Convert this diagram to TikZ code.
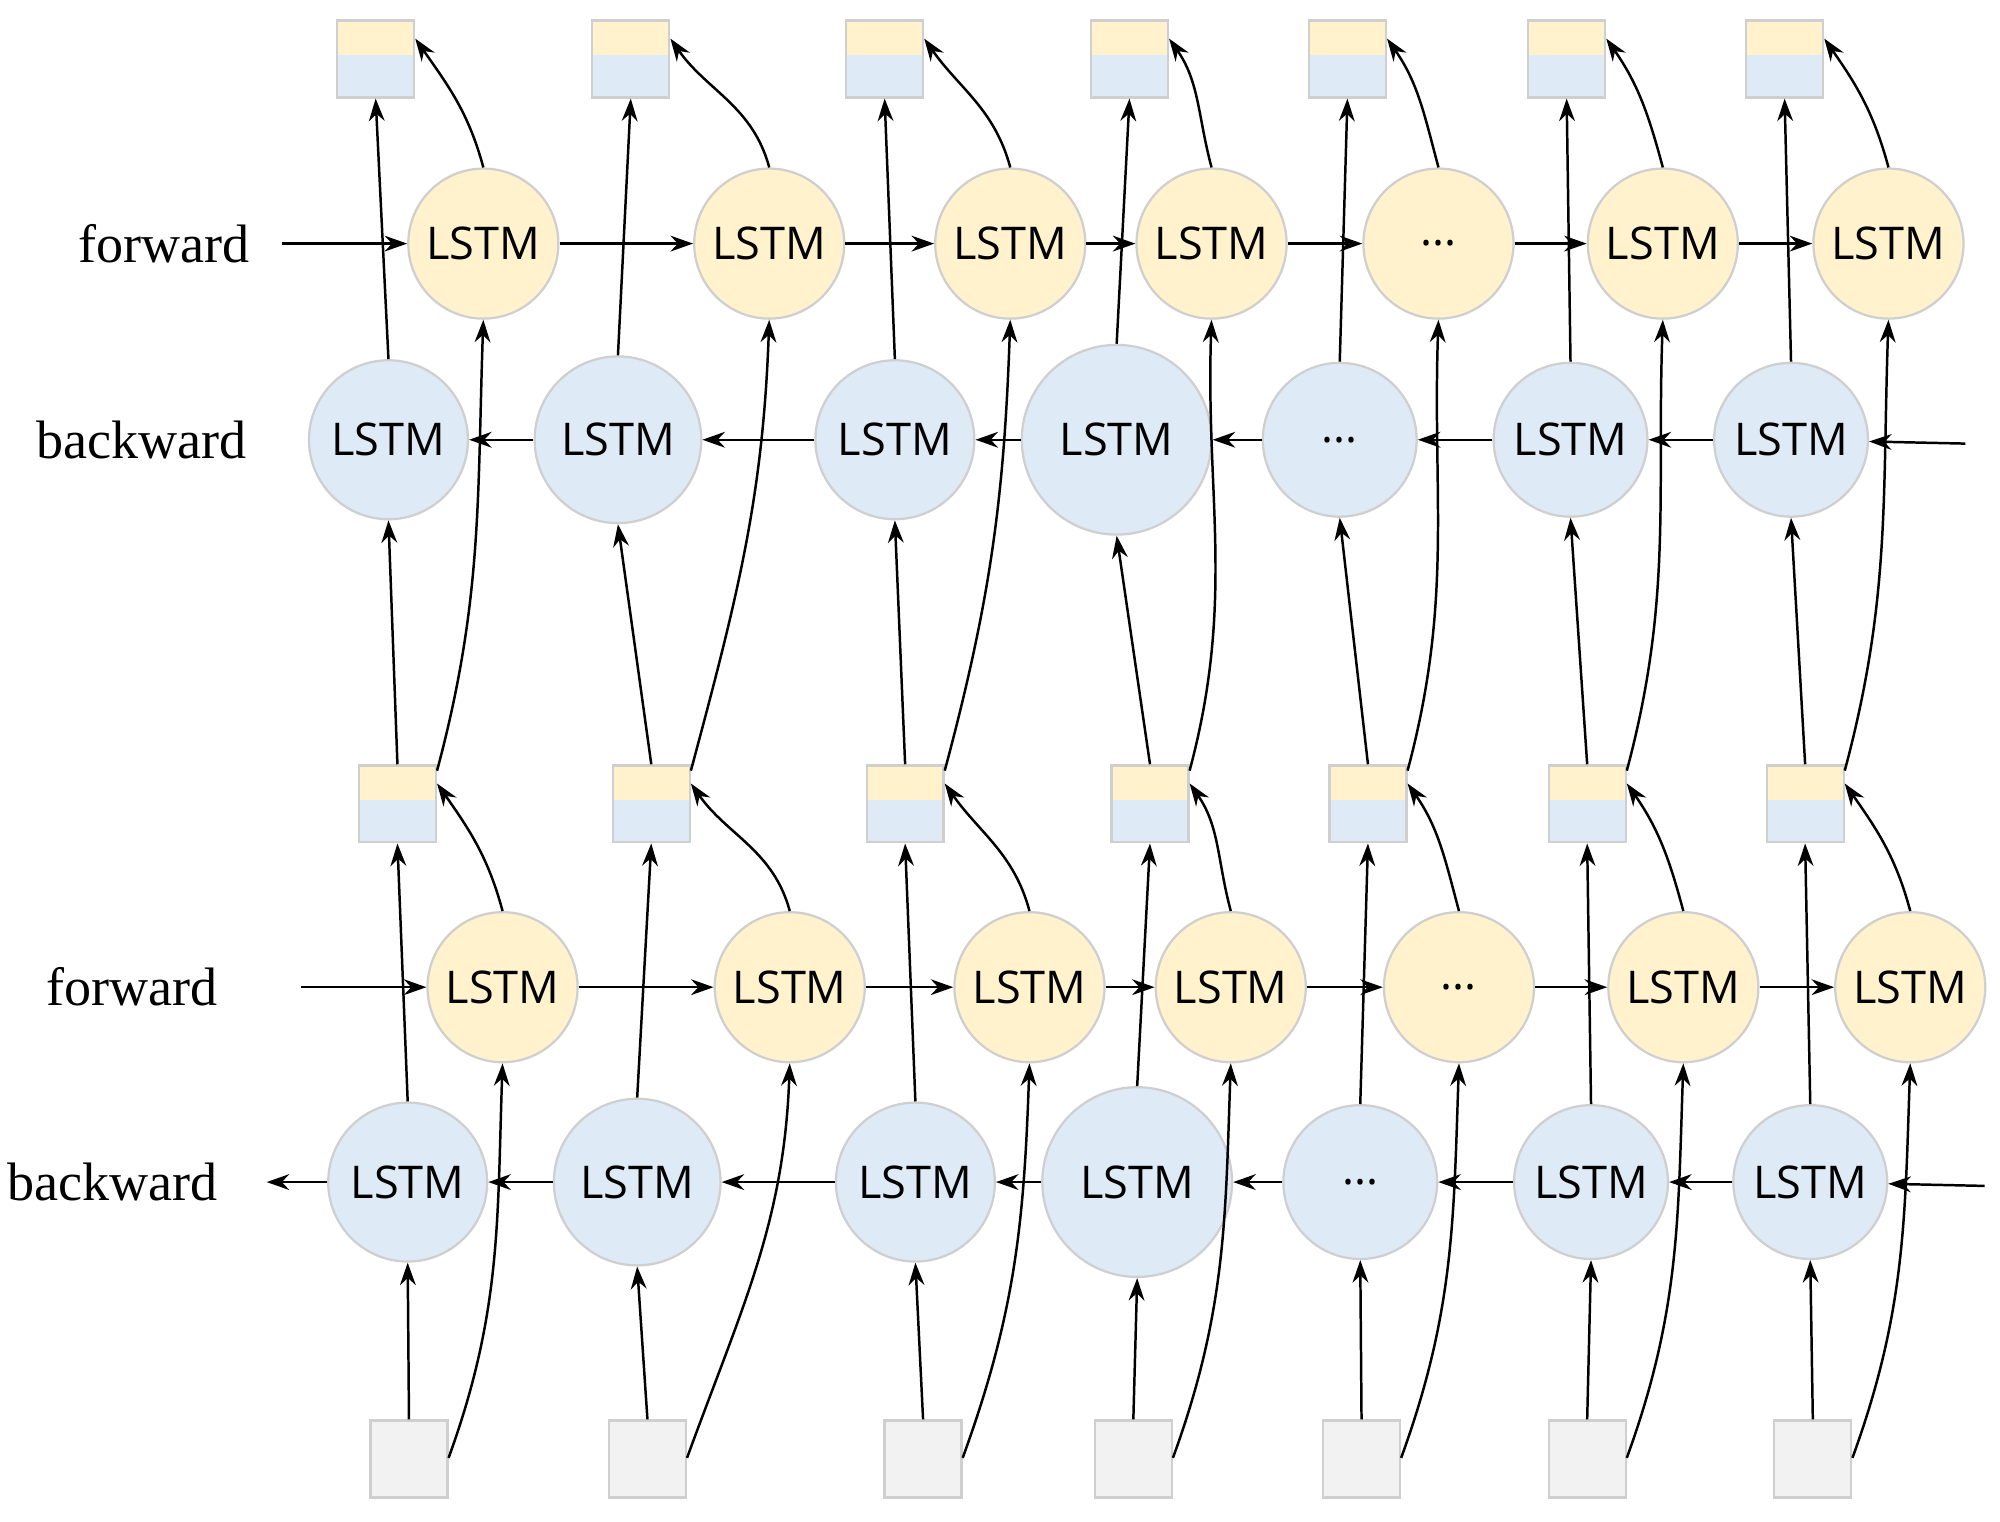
\documentclass[tikz,border=0pt]{standalone}
\usepackage{fontspec}
\setmainfont{Liberation Serif}
\newfontfamily\lsans{Open Sans}
\usetikzlibrary{calc,arrows.meta}
\newcommand\mydots{...}
\definecolor{ycol}{HTML}{FFF2CC}
\definecolor{bcol}{HTML}{DEEBF7}
\definecolor{gcol}{HTML}{F2F2F2}
\definecolor{edgec}{HTML}{CFCFCF}
\begin{document}
\begin{tikzpicture}[x=0.01cm,y=-0.01cm,
  cell/.style={circle,draw=edgec,line width=0.5pt,inner sep=0pt,font=\lsans\fontsize{10}{12}\selectfont},
  fw/.style={cell,fill=ycol,minimum size=1.17cm},
  bw/.style={cell,fill=bcol},
  box/.style={rectangle,draw=edgec,line width=0.5pt,minimum width=0.6cm,minimum height=0.6cm,inner sep=0pt,fill=bcol},
  inbox/.style={box,fill=gcol},
  arr/.style={-{Stealth[length=5pt,width=3.5pt]},line width=0.55pt},
  lab/.style={font=\fontsize{12}{14}\selectfont}]
\useasboundingbox (0,0) rectangle (1560,1187);
% output boxes
\foreach \i/\x in {1/293,2/492,3/690,4/881,5/1051,6/1222,7/1392}{
  \node[box] (T\i) at (\x,46) {};
  \fill[ycol] ($(T\i.north west)+(0.5pt,-0.5pt)$) rectangle ($(T\i.north east)+(-0.5pt,-0.28cm)$);
}
\foreach \i/\x in {1/310,2/508,3/706,4/897,5/1067,6/1238,7/1408}{
  \node[box] (M\i) at (\x,627) {};
  \fill[ycol] ($(M\i.north west)+(0.5pt,-0.5pt)$) rectangle ($(M\i.north east)+(-0.5pt,-0.28cm)$);
}
\foreach \i/\x in {1/319,2/505,3/720,4/884,5/1062,6/1238,7/1414}{
  \node[inbox] (I\i) at (\x,1138) {};
}
% forward rows
\foreach \i/\x/\t in {1/377/LSTM,2/600/LSTM,3/788/LSTM,4/945/LSTM,5/1122/\mydots,6/1297/LSTM,7/1473/LSTM}{
  \node[fw] (F\i) at (\x,190) {\t};
}
\foreach \i/\x/\t in {1/392/LSTM,2/616/LSTM,3/803/LSTM,4/960/LSTM,5/1138/\mydots,6/1313/LSTM,7/1490/LSTM}{
  \node[fw] (G\i) at (\x,770) {\t};
}
% backward rows
\foreach \i/\x/\r/\t in {1/303/124/LSTM,2/482/130/LSTM,3/698/124/LSTM,4/871/148/LSTM,5/1045/120/\mydots,6/1225/120/LSTM,7/1397/120/LSTM}{
  \node[bw,minimum size=\r*0.01cm] (B\i) at (\x,343) {\t};
}
\foreach \i/\x/\r/\t in {1/318/124/LSTM,2/497/130/LSTM,3/714/124/LSTM,4/887/148/LSTM,5/1061/120/\mydots,6/1241/120/LSTM,7/1412/120/LSTM}{
  \node[bw,minimum size=\r*0.01cm] (C\i) at (\x,922) {\t};
}
% labels
\node[lab,anchor=east] (lf1) at (207,190) {forward};
\node[lab,anchor=east] (lb1) at (205,343) {backward};
\node[lab,anchor=east] (lf2) at (182,770) {forward};
\node[lab,anchor=east] (lb2) at (182,922) {backward};
\coordinate (ef1) at (220,190);
\coordinate (eb1) at (1533,346);
\coordinate (ef2) at (235,770);
\coordinate (eb2) at (1548,925);
\coordinate (ob2) at (208,922);
\draw[arr] (ef1) -- (F1);
\draw[arr] (ef2) -- (G1);
\draw[arr] (eb1) -- (B7);
\draw[arr] (eb2) -- (C7);
\draw[arr] (C1) -- (ob2);
\foreach \a/\b in {1/2,2/3,3/4,4/5,5/6,6/7}{
  \draw[arr] (F\a) -- (F\b);
  \draw[arr] (G\a) -- (G\b);
  \draw[arr] (B\b) -- (B\a);
  \draw[arr] (C\b) -- (C\a);
}
\foreach \i in {1,...,7}{
  \draw[arr] (B\i.north) -- (T\i.south);
  \draw[arr] (C\i.north) -- (M\i.south);
  \draw[arr] (M\i.north) -- (B\i.south);
  \draw[arr] (I\i.north) -- (C\i.south);
  \draw[arr] (F\i.north) to[out=105,in=-55] ($(T\i.north east)+(0,-0.15cm)$);
  \draw[arr] (G\i.north) to[out=105,in=-55] ($(M\i.north east)+(0,-0.15cm)$);
  \draw[arr] ($(M\i.north east)+(0,-0.05cm)$) to[out=75,in=-92] (F\i.south);
  \draw[arr] ($(I\i.north east)+(0,-0.3cm)$) to[out=70,in=-92] (G\i.south);
}
\end{tikzpicture}
\end{document}
